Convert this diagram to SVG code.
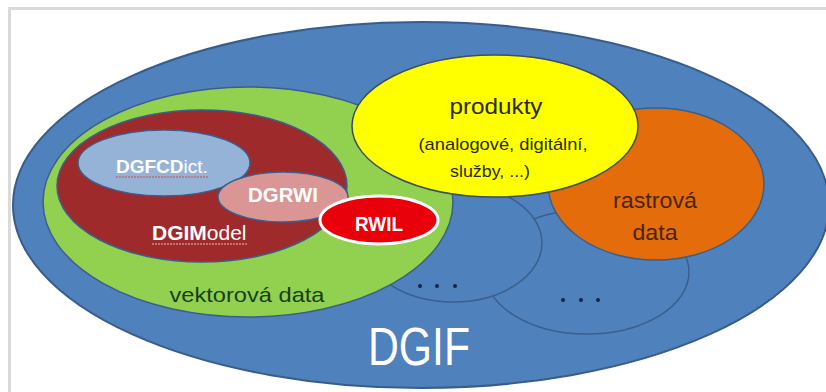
<svg xmlns="http://www.w3.org/2000/svg" width="826" height="392" viewBox="0 0 826 392">
  <style>
    .lbl { font-family: "Liberation Sans", Arial, sans-serif; }
    .w { fill: #ffffff; }
    .b { font-weight: bold; }
    .edge { stroke: #3a5f8c; stroke-width: 1.5; }
  </style>
  <rect x="0" y="0" width="826" height="392" fill="#ffffff"/>
  <rect x="9.5" y="8.5" width="830" height="400" fill="none" stroke="#dadada" stroke-width="3"/>

  <g id="dgif">
    <ellipse cx="421" cy="205" rx="408" ry="183" fill="#4f81bd" stroke="#385d8a" stroke-width="2"/>
  </g>
  <g id="other2">
    <ellipse cx="587" cy="272" rx="102" ry="62" fill="#4f81bd" class="edge"/>
    <circle cx="563" cy="300" r="2" fill="#14244a"/>
    <circle cx="581" cy="300" r="2" fill="#14244a"/>
    <circle cx="598" cy="300" r="2" fill="#14244a"/>
  </g>
  <g id="other1">
    <ellipse cx="453" cy="243" rx="89" ry="59" fill="#4f81bd" class="edge"/>
    <circle cx="420" cy="286" r="2" fill="#14244a"/>
    <circle cx="437" cy="286" r="2" fill="#14244a"/>
    <circle cx="455" cy="286" r="2" fill="#14244a"/>
  </g>
  <g id="rastrova">
    <ellipse cx="656" cy="184" rx="108" ry="76" fill="#e46c0a" class="edge"/>
    <text class="lbl" x="655" y="208" font-size="22" text-anchor="middle" fill="#4a2408" textLength="84" lengthAdjust="spacingAndGlyphs">rastrová</text>
    <text class="lbl" x="655" y="240" font-size="22" text-anchor="middle" fill="#4a2408" textLength="45" lengthAdjust="spacingAndGlyphs">data</text>
  </g>
  <g id="vektorova">
    <ellipse cx="248" cy="202" rx="205" ry="115" fill="#92d050" class="edge"/>
    <text class="lbl" x="247" y="302" font-size="21" text-anchor="middle" fill="#163f12" textLength="155" lengthAdjust="spacingAndGlyphs">vektorová data</text>
  </g>
  <g id="produkty">
    <ellipse cx="495" cy="126" rx="143" ry="71" fill="#ffff00" stroke="#3a4f5f" stroke-width="1.5"/>
    <text class="lbl" x="496" y="114" font-size="22" text-anchor="middle" fill="#2b2a10" textLength="93" lengthAdjust="spacingAndGlyphs">produkty</text>
    <text class="lbl" x="503" y="150" font-size="17" text-anchor="middle" fill="#2b2a10" textLength="169" lengthAdjust="spacingAndGlyphs">(analogové, digitální,</text>
    <text class="lbl" x="490" y="177" font-size="17" text-anchor="middle" fill="#2b2a10" textLength="80" lengthAdjust="spacingAndGlyphs">služby, ...)</text>
  </g>
  <g id="dgimodel">
    <ellipse cx="202" cy="186" rx="145" ry="76" fill="#9e2a2b" class="edge"/>
    <text class="lbl w" x="152" y="240" font-size="21"><tspan class="b">DGIM</tspan><tspan>odel</tspan></text>
    <path d="M152 244 L248 244" stroke="#e9b9b9" stroke-width="1" stroke-dasharray="2 1"/>
  </g>
  <g id="dgfcdict">
    <ellipse cx="164" cy="163" rx="86" ry="33" fill="#95b3d7" class="edge"/>
    <text class="lbl w" x="116" y="173" font-size="19"><tspan class="b">DGFCD</tspan><tspan>ict.</tspan></text>
    <path d="M116 177 L208 177" stroke="#d0484a" stroke-width="1" stroke-dasharray="2 1"/>
  </g>
  <g id="dgrwi">
    <ellipse cx="283" cy="197" rx="65" ry="25" fill="#d99694" class="edge"/>
    <text class="lbl w b" x="283" y="202" font-size="21" text-anchor="middle" textLength="70" lengthAdjust="spacingAndGlyphs">DGRWI</text>
  </g>
  <g id="rwil">
    <ellipse cx="379" cy="220" rx="59" ry="24" fill="#e8000b" stroke="#ffffff" stroke-width="3"/>
    <text class="lbl w b" x="379" y="231" font-size="21" text-anchor="middle" textLength="48" lengthAdjust="spacingAndGlyphs">RWIL</text>
  </g>
  <g id="dgif-label">
    <text class="lbl w" x="419" y="365" font-size="53" text-anchor="middle" textLength="102" lengthAdjust="spacingAndGlyphs">DGIF</text>
  </g>
  <g id="connectors"></g>
</svg>
